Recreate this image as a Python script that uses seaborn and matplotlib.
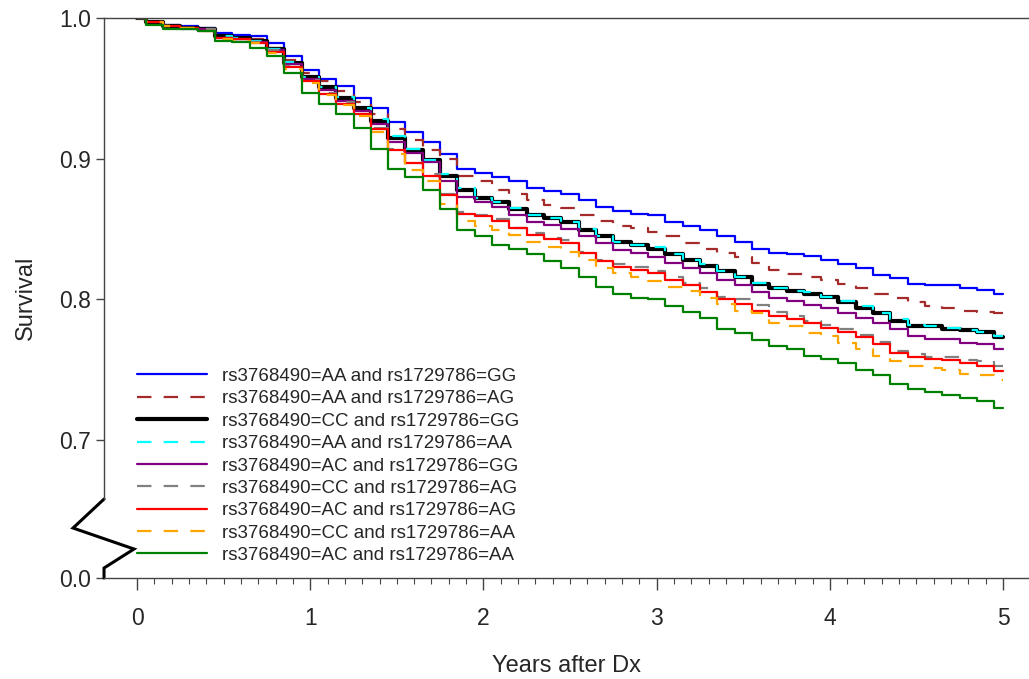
import matplotlib.pyplot as plt
import matplotlib.ticker as mticker
from matplotlib.lines import Line2D
import seaborn as sns

# years after diagnosis (reading grid) and survival
years = [0.0, 0.1, 0.2, 0.3, 0.4, 0.5, 0.6, 0.7, 0.8, 0.9,
         1.0, 1.1, 1.2, 1.3, 1.4, 1.5, 1.6, 1.7, 1.8, 1.9,
         2.0, 2.1, 2.2, 2.3, 2.4, 2.5, 2.6, 2.7, 2.8, 2.9,
         3.0, 3.1, 3.2, 3.3, 3.4, 3.5, 3.6, 3.7, 3.8, 3.9,
         4.0, 4.1, 4.2, 4.3, 4.4, 4.5, 4.6, 4.7, 4.8, 4.9, 5.0]

surv_aa_gg = [1.0, 0.997, 0.995, 0.994, 0.993, 0.989, 0.988, 0.987, 0.982, 0.973, 0.963, 0.957, 0.952, 0.943, 0.936, 0.926,
              0.919, 0.912, 0.903, 0.893, 0.890, 0.887, 0.884, 0.879, 0.877, 0.875, 0.871, 0.866, 0.863, 0.861, 0.860,
              0.855, 0.852, 0.849, 0.845, 0.841, 0.836, 0.833, 0.832,
              0.831, 0.828, 0.825, 0.822, 0.817, 0.815, 0.811, 0.810, 0.810, 0.808, 0.807, 0.804]
surv_aa_ag = [1.0, 0.997, 0.994, 0.993, 0.992, 0.987, 0.986, 0.985, 0.979, 0.970, 0.961, 0.955, 0.948, 0.940, 0.932, 0.921,
              0.913, 0.906, 0.900, 0.888, 0.884, 0.878, 0.875, 0.871, 0.867, 0.865, 0.860, 0.856, 0.852, 0.851, 0.848,
              0.845, 0.840, 0.836, 0.833, 0.830, 0.826, 0.821, 0.818,
              0.816, 0.814, 0.811, 0.808, 0.804, 0.801, 0.798, 0.795, 0.794, 0.792, 0.791, 0.790]
surv_cc_gg = [1.0, 0.997, 0.994, 0.993, 0.992, 0.987, 0.986, 0.984, 0.978, 0.968, 0.958, 0.951, 0.943, 0.936, 0.927, 0.915,
              0.906, 0.899, 0.888, 0.878, 0.872, 0.869, 0.864, 0.860, 0.858, 0.855, 0.849, 0.845, 0.841, 0.839, 0.836,
              0.832, 0.828, 0.824, 0.820, 0.816, 0.811, 0.808, 0.806,
              0.804, 0.802, 0.798, 0.794, 0.790, 0.785, 0.781, 0.781, 0.779, 0.778, 0.777, 0.773]
surv_aa_aa = [1.0, 0.997, 0.994, 0.993, 0.992, 0.987, 0.986, 0.984, 0.978, 0.969, 0.958, 0.951, 0.944, 0.936, 0.928, 0.916,
              0.907, 0.899, 0.889, 0.879, 0.872, 0.869, 0.865, 0.860, 0.858, 0.855, 0.850, 0.845, 0.841, 0.839, 0.837,
              0.832, 0.828, 0.825, 0.820, 0.816, 0.812, 0.808, 0.806,
              0.805, 0.802, 0.799, 0.795, 0.790, 0.786, 0.782, 0.781, 0.780, 0.778, 0.777, 0.774]
surv_ac_gg = [1.0, 0.997, 0.994, 0.993, 0.992, 0.986, 0.985, 0.983, 0.977, 0.967, 0.957, 0.949, 0.941, 0.934, 0.925, 0.912,
              0.904, 0.898, 0.884, 0.873, 0.869, 0.866, 0.860, 0.855, 0.853, 0.850, 0.845, 0.840, 0.835, 0.833, 0.830,
              0.826, 0.822, 0.819, 0.814, 0.810, 0.805, 0.801, 0.799,
              0.796, 0.794, 0.790, 0.787, 0.783, 0.779, 0.774, 0.772, 0.772, 0.769, 0.768, 0.765]
surv_cc_ag = [1.0, 0.997, 0.994, 0.993, 0.992, 0.986, 0.985, 0.983, 0.977, 0.966, 0.956, 0.947, 0.940, 0.932, 0.922, 0.907,
              0.897, 0.889, 0.875, 0.862, 0.860, 0.857, 0.851, 0.847, 0.844, 0.842, 0.834, 0.828, 0.825, 0.823, 0.820,
              0.816, 0.812, 0.808, 0.802, 0.800, 0.796, 0.791, 0.788,
              0.785, 0.782, 0.779, 0.775, 0.770, 0.763, 0.761, 0.759, 0.759, 0.757, 0.756, 0.753]
surv_ac_ag = [1.0, 0.997, 0.994, 0.993, 0.991, 0.986, 0.985, 0.982, 0.976, 0.965, 0.955, 0.946, 0.939, 0.932, 0.921, 0.906,
              0.897, 0.888, 0.874, 0.861, 0.859, 0.856, 0.851, 0.846, 0.843, 0.840, 0.833, 0.827, 0.823, 0.821, 0.819,
              0.814, 0.810, 0.805, 0.800, 0.797, 0.792, 0.788, 0.786,
              0.783, 0.780, 0.777, 0.773, 0.768, 0.762, 0.759, 0.758, 0.757, 0.755, 0.753, 0.749]
surv_cc_aa = [1.0, 0.997, 0.994, 0.993, 0.991, 0.985, 0.984, 0.982, 0.975, 0.964, 0.954, 0.945, 0.938, 0.930, 0.919, 0.903,
              0.892, 0.884, 0.868, 0.856, 0.852, 0.849, 0.846, 0.841, 0.837, 0.834, 0.828, 0.822, 0.819, 0.816, 0.813,
              0.809, 0.806, 0.801, 0.797, 0.792, 0.790, 0.783, 0.781,
              0.776, 0.774, 0.769, 0.765, 0.760, 0.756, 0.753, 0.751, 0.750, 0.747, 0.746, 0.743]
surv_ac_aa = [1.0, 0.995, 0.992, 0.992, 0.991, 0.984, 0.983, 0.979, 0.973, 0.961, 0.947, 0.939, 0.932, 0.922, 0.907, 0.893,
              0.887, 0.878, 0.864, 0.849, 0.845, 0.839, 0.836, 0.832, 0.827, 0.822, 0.816, 0.809, 0.804, 0.801, 0.800,
              0.795, 0.791, 0.787, 0.779, 0.776, 0.771, 0.767, 0.765,
              0.760, 0.758, 0.755, 0.750, 0.746, 0.740, 0.736, 0.734, 0.732, 0.730, 0.728, 0.723]

labels = [
    "rs3768490=AA and rs1729786=GG",
    "rs3768490=AA and rs1729786=AG",
    "rs3768490=CC and rs1729786=GG",
    "rs3768490=AA and rs1729786=AA",
    "rs3768490=AC and rs1729786=GG",
    "rs3768490=CC and rs1729786=AG",
    "rs3768490=AC and rs1729786=AG",
    "rs3768490=CC and rs1729786=AA",
    "rs3768490=AC and rs1729786=AA",
]
series = [surv_aa_gg, surv_aa_ag, surv_cc_gg, surv_aa_aa, surv_ac_gg,
          surv_cc_ag, surv_ac_ag, surv_cc_aa, surv_ac_aa]
colors = ["#0000FF", "#A52A2A", "#000000", "#00FFFF", "#800080",
          "#808080", "#FF0000", "#FFA500", "#008000"]
dashed = [False, True, False, True, False, True, False, True, False]
widths = [1.6, 1.6, 3.0, 1.6, 1.6, 1.6, 1.6, 1.6, 1.6]


def main() -> None:
    sns.set_style("ticks")
    plt.rcParams["font.family"] = ["Liberation Sans", "DejaVu Sans"]

    fig = plt.figure(figsize=(10.29, 6.79), dpi=100)
    ax = fig.add_axes([0.1011, 0.1487, 0.8989, 0.8248])

    for vals, lab, col, dash, lw in zip(series, labels, colors, dashed, widths):
        ls = (0, (6.5, 5.5)) if dash else "-"
        sns.lineplot(x=years, y=vals, color=col, linewidth=lw, linestyle=ls,
                     drawstyle="steps-mid", errorbar=None, label=lab, ax=ax)

    y_bottom = 0.602
    ax.set_xlim(-0.1905, 5.15)
    ax.set_ylim(y_bottom, 1.0)
    ax.set_yticks([y_bottom, 0.7, 0.8, 0.9, 1.0])
    ax.set_yticklabels(["0.0", "0.7", "0.8", "0.9", "1.0"])
    ax.set_xticks([0, 1, 2, 3, 4, 5])
    ax.xaxis.set_minor_locator(mticker.FixedLocator([i / 10 for i in range(51)]))

    spine_col = "#444444"
    for side in ["top", "bottom", "left"]:
        ax.spines[side].set_color(spine_col)
        ax.spines[side].set_linewidth(1.0)
    ax.spines["right"].set_visible(False)
    ax.spines["left"].set_bounds(0.658, 1.0)

    ax.tick_params(axis="x", which="major", length=8.5, width=1.0, color=spine_col,
                   labelsize=16.5, pad=12)
    ax.tick_params(axis="x", which="minor", length=4.3, width=0.8, color=spine_col)
    ax.tick_params(axis="y", which="major", length=5.5, width=1.0, color=spine_col,
                   labelsize=16.5, pad=4)

    # axis break on the y axis
    zz = Line2D([0, -0.0335, 0.0324, 0, 0], [0.141, 0.0893, 0.0518, 0.0179, 0],
                transform=ax.transAxes, color="black", linewidth=2.2,
                clip_on=False, solid_joinstyle="miter")
    ax.add_line(zz)

    ax.set_xlabel("Years after Dx", fontsize=17)
    ax.set_ylabel("Survival", fontsize=17)
    ax.xaxis.set_label_coords(0.5, -0.138)
    ax.yaxis.set_label_coords(-0.073, 0.5)

    ax.legend(loc="lower left", bbox_to_anchor=(0.0357, 0.025), frameon=False,
              fontsize=13.5, handlelength=3.75, handletextpad=0.8,
              labelspacing=0.28, borderpad=0, borderaxespad=0)

    fig.savefig("out.png", dpi=100)
    plt.close(fig)


if __name__ == "__main__":
    main()
